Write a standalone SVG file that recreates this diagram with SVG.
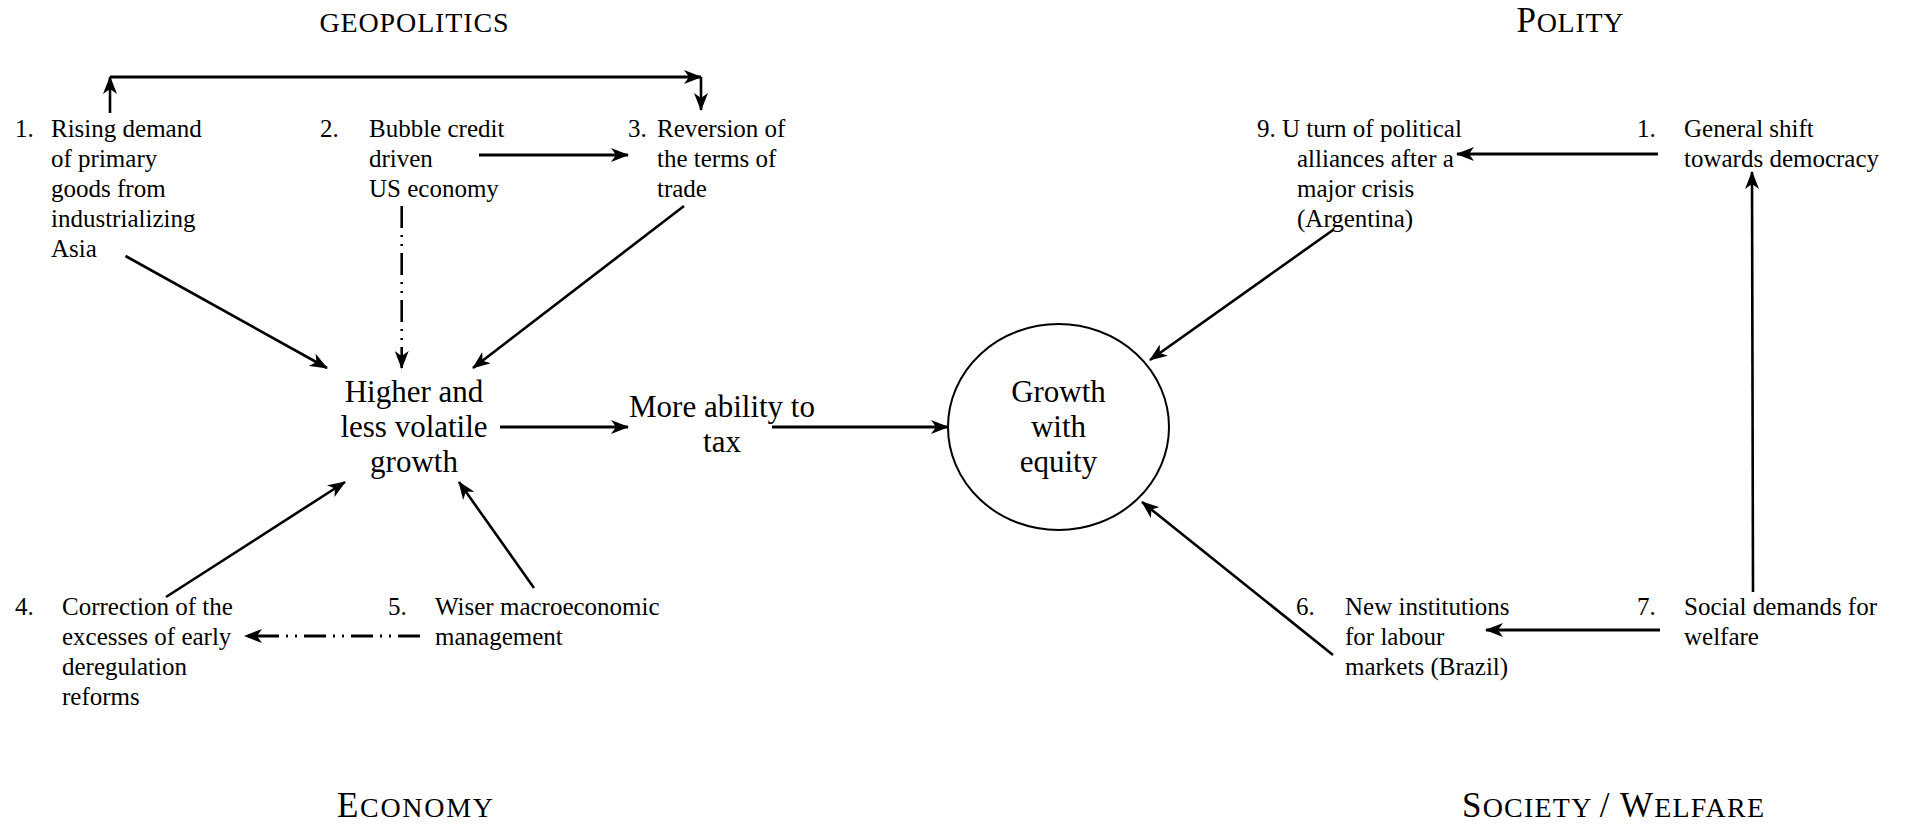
<svg xmlns="http://www.w3.org/2000/svg" width="1908" height="824" viewBox="0 0 1908 824">
<style>
text{font-family:"Liberation Serif","Times New Roman",serif;fill:#000}
.b{font-size:25px}
.m{font-size:31px;text-anchor:middle}
.h{text-anchor:middle}
.big{font-size:35px}
.sc{font-size:28px}
.ln{fill:none;stroke:#000;stroke-width:2.6;marker-end:url(#ah)}
.hz{stroke-width:3}
.dd{stroke-dasharray:22 7 2 7 2 7}
</style>
<defs>
<marker id="ah" markerUnits="userSpaceOnUse" viewBox="0 0 18 14" refX="17" refY="7" markerWidth="18" markerHeight="14" orient="auto">
<path d="M0,0 L18,7 L0,14 L5,7 Z" fill="#000" stroke="none"/>
</marker>
</defs>
<rect width="1908" height="824" fill="#fff"/>
<g id="headings">
<text class="h sc" x="414" y="32" textLength="189">GEOPOLITICS</text>
<text class="h" x="1570" y="32" textLength="107"><tspan class="big">P</tspan><tspan class="sc">OLITY</tspan></text>
<text class="h" x="415" y="817" textLength="156"><tspan class="big">E</tspan><tspan class="sc">CONOMY</tspan></text>
<text class="h" x="1613" y="817" textLength="302"><tspan class="big">S</tspan><tspan class="sc">OCIETY </tspan><tspan class="big">/ W</tspan><tspan class="sc">ELFARE</tspan></text>
</g>
<g id="connectors">
<path class="ln" d="M110,113 L110,77"/>
<path class="ln hz" d="M110,77 L701,77"/>
<path class="ln" d="M701,77 L701,110"/>
<path class="ln hz" d="M479,155 L628,155"/>
<path class="ln" d="M125.5,256 L327,368"/>
<path class="ln dd" d="M401.7,206 L401.7,368"/>
<path class="ln" d="M684,206 L473,368"/>
<path class="ln hz" d="M500,427 L628,427"/>
<path class="ln hz" d="M772,427 L948,427"/>
<path class="ln" d="M166,597 L345,482"/>
<path class="ln" d="M534,588 L459,482"/>
<path class="ln dd hz" d="M420,636 L245,636"/>
<path class="ln hz" d="M1658,154 L1457,154"/>
<path class="ln" d="M1333,230 L1150,360"/>
<path class="ln" d="M1753,592 L1752,172"/>
<path class="ln hz" d="M1660,630 L1486,630"/>
<path class="ln" d="M1333,655 L1142,502"/>
</g>
<g id="n1">
<text class="b" x="15" y="137">1.</text>
<text class="b" x="51" y="137">Rising demand</text>
<text class="b" x="51" y="167">of primary</text>
<text class="b" x="51" y="197">goods from</text>
<text class="b" x="51" y="227">industrializing</text>
<text class="b" x="51" y="257">Asia</text>
</g>
<g id="n2">
<text class="b" x="320" y="137">2.</text>
<text class="b" x="369" y="137">Bubble credit</text>
<text class="b" x="369" y="167">driven</text>
<text class="b" x="369" y="197">US economy</text>
</g>
<g id="n3">
<text class="b" x="628" y="137">3.</text>
<text class="b" x="657" y="137">Reversion of</text>
<text class="b" x="657" y="167">the terms of</text>
<text class="b" x="657" y="197">trade</text>
</g>
<g id="growth">
<text class="m" x="414" y="402">Higher and</text>
<text class="m" x="414" y="437">less volatile</text>
<text class="m" x="414" y="472">growth</text>
</g>
<g id="tax">
<text class="m" x="722" y="417">More ability to</text>
<text class="m" x="722" y="452">tax</text>
</g>
<g id="equity">
<ellipse cx="1058.5" cy="427" rx="110.5" ry="103" fill="none" stroke="#000" stroke-width="2"/>
<text class="m" x="1058.5" y="402">Growth</text>
<text class="m" x="1058.5" y="437">with</text>
<text class="m" x="1058.5" y="472">equity</text>
</g>
<g id="n4">
<text class="b" x="15" y="615">4.</text>
<text class="b" x="62" y="615">Correction of the</text>
<text class="b" x="62" y="645">excesses of early</text>
<text class="b" x="62" y="675">deregulation</text>
<text class="b" x="62" y="705">reforms</text>
</g>
<g id="n5">
<text class="b" x="388" y="615">5.</text>
<text class="b" x="435" y="615">Wiser macroeconomic</text>
<text class="b" x="435" y="645">management</text>
</g>
<g id="n9">
<text class="b" x="1257" y="137">9. U turn of political</text>
<text class="b" x="1297" y="167">alliances after a</text>
<text class="b" x="1297" y="197">major crisis</text>
<text class="b" x="1297" y="227">(Argentina)</text>
</g>
<g id="p1">
<text class="b" x="1637" y="137">1.</text>
<text class="b" x="1684" y="137">General shift</text>
<text class="b" x="1684" y="167">towards democracy</text>
</g>
<g id="n6">
<text class="b" x="1296" y="615">6.</text>
<text class="b" x="1345" y="615">New institutions</text>
<text class="b" x="1345" y="645">for labour</text>
<text class="b" x="1345" y="675">markets (Brazil)</text>
</g>
<g id="n7">
<text class="b" x="1637" y="615">7.</text>
<text class="b" x="1684" y="615">Social demands for</text>
<text class="b" x="1684" y="645">welfare</text>
</g>
</svg>
